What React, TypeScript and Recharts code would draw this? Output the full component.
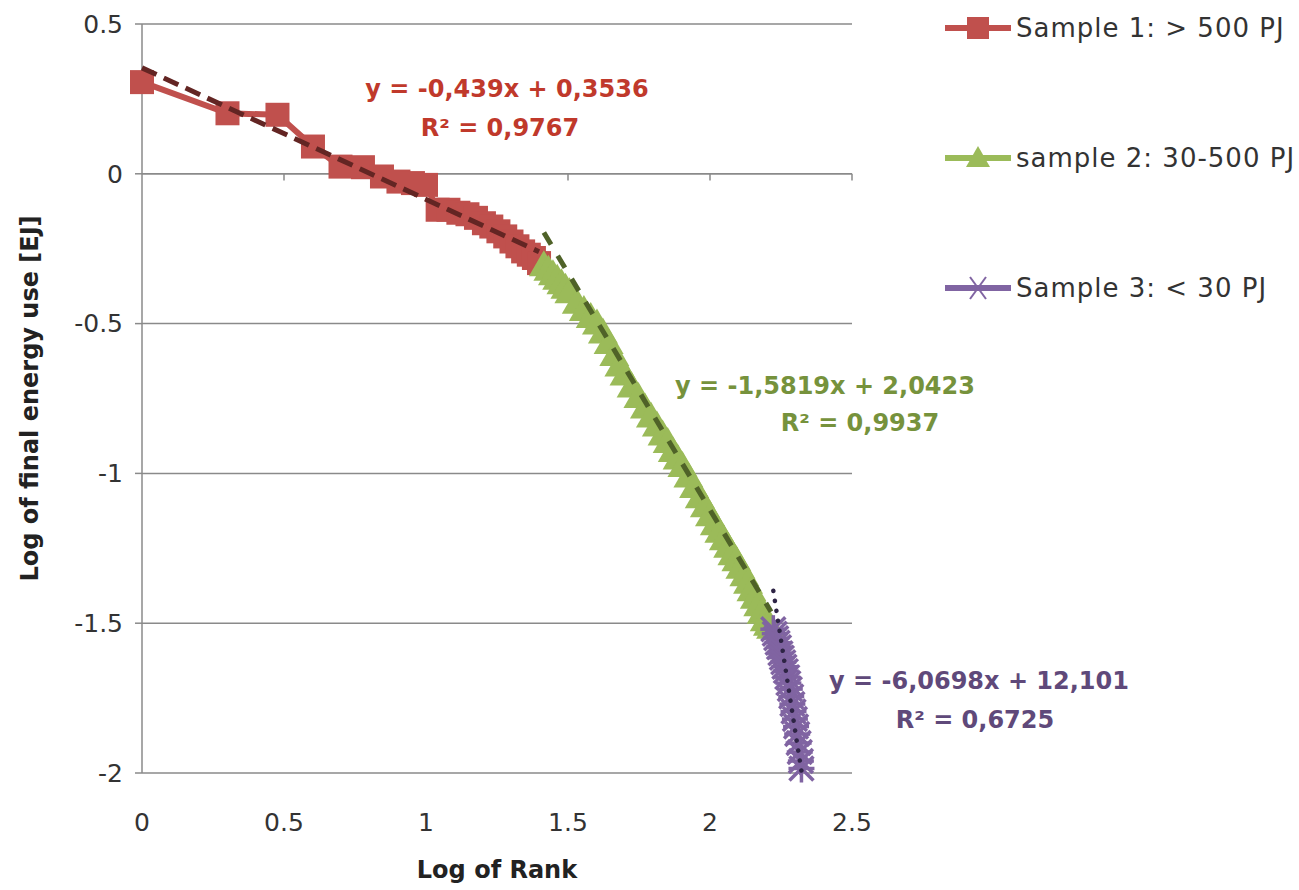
import React from "react";
import {
  ScatterChart,
  Scatter,
  XAxis,
  YAxis,
  CartesianGrid,
  ReferenceLine,
  Label,
} from "recharts";

// log10(rank) and log10(final energy use)
const sample1X = [0, 0.301, 0.477, 0.602, 0.699, 0.778, 0.845, 0.903, 0.954, 1.0, 1.041, 1.079, 1.114, 1.146, 1.176, 1.204, 1.23, 1.255, 1.279, 1.301, 1.322, 1.342, 1.362, 1.38, 1.398];
const sample1Y = [0.306, 0.202, 0.197, 0.091, 0.024, 0.022, -0.009, -0.026, -0.031, -0.037, -0.12, -0.12, -0.13, -0.135, -0.147, -0.165, -0.176, -0.192, -0.209, -0.226, -0.242, -0.259, -0.27, -0.281, -0.298];

const sample2X = [1.415, 1.431, 1.447, 1.462, 1.477, 1.491, 1.505, 1.531, 1.556, 1.58, 1.602, 1.623, 1.643, 1.663, 1.681, 1.699, 1.724, 1.748, 1.771, 1.792, 1.813, 1.833, 1.851, 1.869, 1.886, 1.903, 1.924, 1.944, 1.964, 1.982, 2.0, 2.017, 2.033, 2.049, 2.064, 2.079, 2.093, 2.107, 2.121, 2.134, 2.146, 2.158, 2.17, 2.182, 2.193, 2.204, 2.215];
const sample2Y = [-0.305, -0.32, -0.335, -0.35, -0.365, -0.38, -0.395, -0.43, -0.455, -0.478, -0.5, -0.53, -0.565, -0.605, -0.64, -0.67, -0.71, -0.745, -0.78, -0.81, -0.84, -0.87, -0.895, -0.925, -0.95, -0.975, -1.01, -1.045, -1.08, -1.11, -1.14, -1.17, -1.195, -1.22, -1.245, -1.27, -1.29, -1.315, -1.34, -1.365, -1.39, -1.415, -1.44, -1.465, -1.49, -1.505, -1.515];

const sample3X = [2.223, 2.228, 2.233, 2.238, 2.243, 2.248, 2.253, 2.258, 2.262, 2.267, 2.272, 2.276, 2.281, 2.286, 2.29, 2.294, 2.299, 2.303, 2.307, 2.312, 2.316, 2.32, 2.322];
const sample3Y = [-1.52, -1.535, -1.55, -1.565, -1.58, -1.6, -1.615, -1.63, -1.645, -1.66, -1.68, -1.7, -1.72, -1.745, -1.77, -1.795, -1.82, -1.845, -1.87, -1.9, -1.93, -1.96, -1.985];

// trend line end points
const trend1X = [0, 1.398];
const trend1Y = [0.3536, -0.26];
const trend2X = [1.415, 2.215];
const trend2Y = [-0.196, -1.462];
const trend3X = [2.223, 2.322];
const trend3Y = [-1.392, -1.993];

const xTicks = [0, 0.5, 1, 1.5, 2, 2.5];
const yTicks = [-2, -1.5, -1, -0.5, 0, 0.5];

const legendNames = ["Sample 1: > 500 PJ", "sample 2: 30-500 PJ", "Sample 3: < 30 PJ"];

const RED = "#C0504D";
const GREEN = "#9BBB59";
const PURPLE = "#8064A2";
const FONT = "'DejaVu Sans', sans-serif";

const zip = (xs: number[], ys: number[]) => xs.map((x, i) => ({ x, y: ys[i] }));

const Square = (p: any) => (
  <rect x={p.cx - 12} y={p.cy - 12} width={24} height={24} fill={RED} />
);
const Triangle = (p: any) => (
  <polygon
    points={`${p.cx},${p.cy - 15} ${p.cx + 15},${p.cy + 11} ${p.cx - 15},${p.cy + 11}`}
    fill={GREEN}
  />
);
const Star = (p: any) => (
  <g stroke={PURPLE} strokeWidth={3.5}>
    <line x1={p.cx - 12} y1={p.cy - 12} x2={p.cx + 12} y2={p.cy + 12} />
    <line x1={p.cx - 12} y1={p.cy + 12} x2={p.cx + 12} y2={p.cy - 12} />
    <line x1={p.cx} y1={p.cy - 14} x2={p.cx} y2={p.cy + 14} />
    <line x1={p.cx - 13} y1={p.cy} x2={p.cx + 13} y2={p.cy} />
  </g>
);
const NoDot = () => <g />;

function LegendIcon({ i }: { i: number }) {
  const color = [RED, GREEN, PURPLE][i];
  return (
    <svg width={70} height={30} style={{ display: "block" }}>
      <line x1={2} y1={15} x2={68} y2={15} stroke={color} strokeWidth={6} />
      {i === 0 && <rect x={24} y={4} width={22} height={22} fill={RED} />}
      {i === 1 && <polygon points="35,3 47,24 23,24" fill={GREEN} />}
      {i === 2 && (
        <g stroke={PURPLE} strokeWidth={2}>
          <line x1={27} y1={4} x2={43} y2={26} />
          <line x1={27} y1={26} x2={43} y2={4} />
        </g>
      )}
    </svg>
  );
}

export default function App() {
  const s1 = zip(sample1X, sample1Y);
  const s2 = zip(sample2X, sample2Y);
  const s3 = zip(sample3X, sample3Y);
  const t1 = zip(trend1X, trend1Y);
  const t2 = zip(trend2X, trend2Y);
  const t3 = zip(trend3X, trend3Y);
  const tickStyle = { fill: "#333", fontSize: 25, fontFamily: FONT };

  return (
    <div style={{ position: "absolute", left: 0, top: 0, width: 1299, height: 890, background: "#fff" }}>
      <ScatterChart width={1299} height={890} margin={{ top: 24, right: 447, bottom: 0, left: 0 }}>
        <CartesianGrid horizontal vertical={false} stroke="#8a8a8a" strokeWidth={1.5} />
        <XAxis
          type="number"
          dataKey="x"
          domain={[0, 2.5]}
          ticks={xTicks}
          axisLine={false}
          tickLine={false}
          tickSize={6}
          tickMargin={34}
          height={117}
          tick={tickStyle}
          interval={0}
        >
          <Label
            value="Log of Rank"
            position="insideBottom"
            offset={12}
            style={{ fill: "#222", fontSize: 24, fontWeight: "bold", fontFamily: FONT }}
          />
        </XAxis>
        <YAxis
          type="number"
          dataKey="y"
          domain={[-2, 0.5]}
          ticks={yTicks}
          width={142}
          axisLine={{ stroke: "#8a8a8a", strokeWidth: 1.5 }}
          tickLine={{ stroke: "#8a8a8a", strokeWidth: 1.5 }}
          tickSize={7}
          tickMargin={12}
          tick={tickStyle}
          interval={0}
        >
          <Label
            value="Log of final energy  use [EJ]"
            angle={-90}
            position="insideLeft"
            offset={29}
            style={{ fill: "#222", fontSize: 24, fontWeight: "bold", fontFamily: FONT, textAnchor: "middle", whiteSpace: "pre" }}
          />
        </YAxis>
        <ReferenceLine y={0} stroke="#8a8a8a" strokeWidth={1.5} />
        {xTicks.slice(1).map((t) => (
          <ReferenceLine
            key={t}
            segment={[{ x: t, y: 0 }, { x: t, y: -0.022 }]}
            stroke="#8a8a8a"
            strokeWidth={1.5}
          />
        ))}
        <Scatter
          data={s1}
          shape={Square}
          line={{ stroke: RED, strokeWidth: 6 }}
          isAnimationActive={false}
        />
        <Scatter
          data={s2}
          shape={Triangle}
          line={{ stroke: GREEN, strokeWidth: 6 }}
          isAnimationActive={false}
        />
        <Scatter
          data={s3}
          shape={Star}
          line={{ stroke: PURPLE, strokeWidth: 6 }}
          isAnimationActive={false}
        />
        <Scatter
          data={t1}
          shape={NoDot}
          line={{ stroke: "#632523", strokeWidth: 5, strokeDasharray: "16 8" }}
          isAnimationActive={false}
        />
        <Scatter
          data={t2}
          shape={NoDot}
          line={{ stroke: "#4F6228", strokeWidth: 5, strokeDasharray: "14 13" }}
          isAnimationActive={false}
        />
        <Scatter
          data={t3}
          shape={NoDot}
          line={{ stroke: "#2E2445", strokeWidth: 4.5, strokeDasharray: "0.1 10", strokeLinecap: "round" }}
          isAnimationActive={false}
        />
      </ScatterChart>

      <svg
        width={1299}
        height={890}
        style={{ position: "absolute", left: 0, top: 0, pointerEvents: "none" }}
        fontFamily={FONT}
        fontWeight="bold"
        fontSize={24}
        textAnchor="middle"
      >
        <text x={507} y={97} fill="#C0392B">y = -0,439x + 0,3536</text>
        <text x={500} y={136} fill="#C0392B">R² = 0,9767</text>
        <text x={825} y={394} fill="#76923C">y = -1,5819x + 2,0423</text>
        <text x={860} y={431} fill="#76923C">R² = 0,9937</text>
        <text x={979} y={689} fill="#5F497A">y = -6,0698x + 12,101</text>
        <text x={975} y={728} fill="#5F497A">R² = 0,6725</text>
      </svg>

      {legendNames.map((name, i) => (
        <div
          key={name}
          style={{
            position: "absolute",
            left: 943,
            top: 13 + i * 130,
            display: "flex",
            alignItems: "center",
            fontFamily: FONT,
            fontSize: 26,
            letterSpacing: 1,
            color: "#333",
            whiteSpace: "nowrap",
          }}
        >
          <LegendIcon i={i} />
          <span style={{ marginLeft: 3 }}>{name}</span>
        </div>
      ))}
    </div>
  );
}
